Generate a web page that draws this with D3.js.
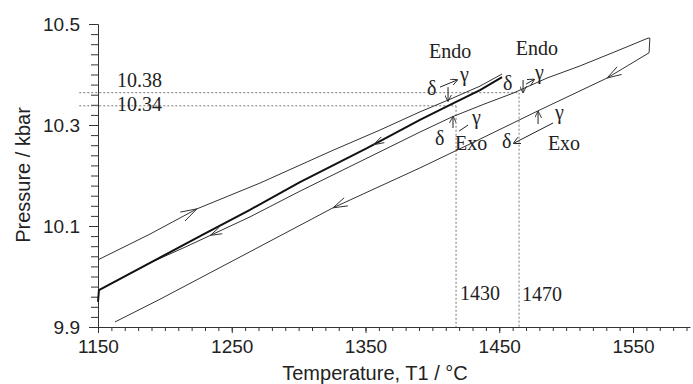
<!DOCTYPE html>
<html>
<head>
<meta charset="utf-8">
<script src="https://cdn.jsdelivr.net/npm/d3@7"></script>
<style>
  body { margin: 0; background: #fff; }
  svg text { fill: #222; }
  .axis text { font-family: "Liberation Sans", Arial, sans-serif; font-size: 19px; fill: #222; }
  .axis path, .axis line { stroke: #333; }
  .title { font-family: "Liberation Sans", Arial, sans-serif; font-size: 20px; }
  .anno { font-family: "Liberation Serif", "Times New Roman", serif; font-size: 20px; }
  .trace { fill: none; stroke: #333; stroke-width: 1; stroke-linejoin: round; }
  .trace.thick { stroke: #111; stroke-width: 2; }
  .guide { stroke: #777; stroke-width: 1; stroke-dasharray: 2,2; fill: none; }
</style>
</head>
<body>
<div id="chart"></div>
<script>
// axis ticks
const xTicks = [1150, 1250, 1350, 1450, 1550];
const yTicks = [9.9, 10.1, 10.3, 10.5];

// traces: [temperature °C, pressure kbar]
const run1Heat = [[1150, 10.033], [1188.9, 10.084], [1224.0, 10.134], [1271.1, 10.185], [1325.7, 10.250],
  [1360.8, 10.290], [1390.7, 10.326], [1413.2, 10.351], [1435.6, 10.377], [1452.1, 10.401]];
const run2Heat = [[1150, 9.950], [1150.7, 9.973], [1188.9, 10.027], [1226.3, 10.080], [1263.6, 10.132],
  [1301.0, 10.187], [1351.1, 10.254], [1390.7, 10.310], [1414.7, 10.342], [1435.6, 10.369], [1452.1, 10.395]];
const run3Heat = [[1150.7, 9.973], [1188.9, 10.027], [1215.0, 10.058], [1263.6, 10.118], [1301.0, 10.169],
  [1363.1, 10.250], [1390.7, 10.286], [1414.7, 10.316], [1439.3, 10.342], [1460.3, 10.363], [1485.7, 10.393],
  [1510.4, 10.417], [1536.5, 10.445], [1561.2, 10.472]];
const run3Cool = [[1561.2, 10.472], [1562.6, 10.472], [1562.0, 10.443], [1530.6, 10.393], [1480.5, 10.330],
  [1435.6, 10.272], [1390.7, 10.215], [1325.7, 10.136], [1263.6, 10.049], [1194.9, 9.953], [1162.7, 9.910]];

// direction arrows on the traces: temperature, direction (+1 heating, -1 cooling)
const traceArrows = [
  { series: run1Heat, t: 1224, dir: 1, len: 17 },
  { series: run3Heat, t: 1234, dir: -1, len: 12 },
  { series: run2Heat, t: 1356, dir: -1, len: 11 },
  { series: run3Cool, t: 1325.7, dir: -1, len: 15 },
  { series: run3Cool, t: 1530.6, dir: -1, len: 15 }
];

// dotted guide levels
const pLevels = [{ label: '10.38', p: 10.364, tEnd: 1464.8 }, { label: '10.34', p: 10.338, tEnd: 1417.7 }];
const tLevels = [{ label: '1430', t: 1417.7, pTop: 10.338 }, { label: '1470', t: 1464.8, pTop: 10.364 }];

// text annotations: [text, temperature, pressure, anchor]
const notes = [
  ['Endo', 1413.2, 10.433, 'middle'], ['δ', 1396.0, 10.359, 'start'], ['γ', 1420.7, 10.388, 'start'],
  ['Endo', 1478.2, 10.438, 'middle'], ['δ', 1452.8, 10.369, 'start'], ['γ', 1476.7, 10.392, 'start'],
  ['γ', 1429.6, 10.302, 'start'], ['δ', 1402.0, 10.260, 'start'], ['Exo', 1428.9, 10.250, 'middle'],
  ['γ', 1491.7, 10.312, 'start'], ['δ', 1452.0, 10.254, 'start'], ['Exo', 1498.4, 10.250, 'middle']
];
// small annotation arrows: [t1, p1, t2, p2, head]
const noteArrows = [
  [1405.7, 10.375, 1418.4, 10.389, true], [1411.7, 10.375, 1411.7, 10.348, true],
  [1470.0, 10.381, 1476.0, 10.390, true], [1467.8, 10.389, 1467.8, 10.365, true],
  [1415.4, 10.294, 1415.4, 10.316, true], [1420.0, 10.288, 1426.7, 10.300, false],
  [1479.0, 10.302, 1479.0, 10.326, true], [1490.2, 10.304, 1461.0, 10.264, true]
];

const width = 693, height = 384;
const svg = d3.select('#chart').append('svg').attr('width', width).attr('height', height);

const x = d3.scaleLinear().domain([1150, 1592.6]).range([98, 690]);
const y = d3.scaleLinear().domain([9.9, 10.5]).range([327, 24]);

svg.append('defs').append('marker')
  .attr('id', 'head').attr('viewBox', '0 0 8 8').attr('refX', 7).attr('refY', 4)
  .attr('markerWidth', 7).attr('markerHeight', 7).attr('markerUnits', 'userSpaceOnUse')
  .attr('orient', 'auto')
  .append('path').attr('d', 'M0,0L8,4L0,8').attr('fill', 'none').attr('stroke', '#222');

// axes
const yMinor = d3.range(0, 31).map(i => +(9.9 + i * 0.02).toFixed(2));
svg.append('g').attr('class', 'axis').attr('transform', 'translate(98,0)')
  .call(d3.axisLeft(y).tickValues(yMinor).tickSize(7).tickFormat(''));
svg.append('g').attr('class', 'axis').attr('transform', 'translate(98,0)')
  .call(d3.axisLeft(y).tickValues(yTicks).tickSize(9).tickPadding(9).tickSizeOuter(0).tickFormat(d3.format('.1f')))
  .call(g => g.select('.domain').remove());

const xMinor = d3.range(1150, 1591, 10);
svg.append('g').attr('class', 'axis').attr('transform', 'translate(0,327)')
  .call(d3.axisBottom(x).tickValues(xMinor).tickSize(4).tickSizeOuter(0).tickFormat(''));
svg.append('g').attr('class', 'axis').attr('transform', 'translate(0,327)')
  .call(d3.axisBottom(x).tickValues(xTicks).tickSize(6).tickPadding(7).tickFormat(d3.format('d')))
  .call(g => g.select('.domain').remove());

svg.append('text').attr('class', 'title').attr('x', 375).attr('y', 380)
  .attr('text-anchor', 'middle').text('Temperature, T1 / °C');
svg.append('text').attr('class', 'title').attr('transform', 'translate(30,175) rotate(-90)')
  .attr('text-anchor', 'middle').text('Pressure / kbar');

// dotted guides
pLevels.forEach(d => {
  svg.append('line').attr('class', 'guide')
    .attr('x1', x(1136)).attr('x2', x(d.tEnd)).attr('y1', y(d.p)).attr('y2', y(d.p));
});
tLevels.forEach(d => {
  svg.append('line').attr('class', 'guide')
    .attr('x1', x(d.t)).attr('x2', x(d.t)).attr('y1', y(d.pTop)).attr('y2', y(9.9));
});
svg.append('text').attr('class', 'anno').attr('x', x(1164.2)).attr('y', y(10.375)).text(pLevels[0].label);
svg.append('text').attr('class', 'anno').attr('x', x(1164.2)).attr('y', y(10.328)).text(pLevels[1].label);
svg.append('text').attr('class', 'anno').attr('x', x(tLevels[0].t) + 4).attr('y', y(9.953)).text(tLevels[0].label);
svg.append('text').attr('class', 'anno').attr('x', x(tLevels[1].t) + 3).attr('y', y(9.951)).text(tLevels[1].label);

// traces
const line = d3.line().x(d => x(d[0])).y(d => y(d[1]));
[run1Heat, run3Heat, run3Cool].forEach(s => svg.append('path').attr('class', 'trace').attr('d', line(s)));
svg.append('path').attr('class', 'trace thick').attr('d', line(run2Heat));

// chevrons along traces
function pointOn(series, t, dir) {
  for (let i = 0; i < series.length - 1; i++) {
    const a = series[i], b = series[i + 1];
    if (a[0] !== b[0] && (t - a[0]) * (t - b[0]) <= 0) {
      const k = (t - a[0]) / (b[0] - a[0]);
      const px = x(a[0]) + k * (x(b[0]) - x(a[0]));
      const py = y(a[1]) + k * (y(b[1]) - y(a[1]));
      let ang = Math.atan2(y(b[1]) - y(a[1]), x(b[0]) - x(a[0]));
      if ((b[0] - a[0]) * dir < 0) ang += Math.PI;
      return { px, py, ang };
    }
  }
}
traceArrows.forEach(d => {
  const p = pointOn(d.series, d.t, d.dir);
  const h = 0.3;
  const w1 = [p.px - d.len * Math.cos(p.ang - h), p.py - d.len * Math.sin(p.ang - h)];
  const w2 = [p.px - d.len * Math.cos(p.ang + h), p.py - d.len * Math.sin(p.ang + h)];
  svg.append('path').attr('class', 'trace')
    .attr('d', `M${w1}L${p.px},${p.py}L${w2}`);
});

// annotations
svg.selectAll('.note').data(notes).enter().append('text')
  .attr('class', 'anno note')
  .attr('x', d => x(d[1])).attr('y', d => y(d[2]))
  .attr('text-anchor', d => d[3])
  .text(d => d[0]);
noteArrows.forEach(d => {
  svg.append('line').attr('stroke', '#222').attr('stroke-width', 1)
    .attr('x1', x(d[0])).attr('y1', y(d[1])).attr('x2', x(d[2])).attr('y2', y(d[3]))
    .attr('marker-end', d[4] ? 'url(#head)' : null);
});
</script>
</body>
</html>
